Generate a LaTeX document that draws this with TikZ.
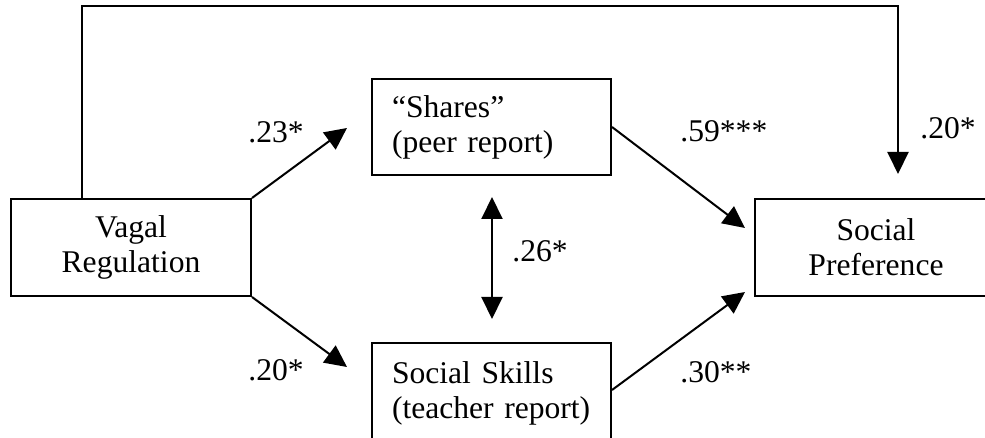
\documentclass[tikz,border=0pt]{standalone}
\usepackage{fontspec}
\setmainfont{Liberation Serif}
\usetikzlibrary{arrows.meta}
\begin{document}
\begin{tikzpicture}[x=0.5pt,y=-0.5pt,
  every node/.style={font=\fontsize{15.8pt}{17.5pt}\selectfont},
  var/.style={draw, line width=1pt, inner sep=0pt, align=center},
  leftvar/.style={draw, line width=1pt, inner xsep=10pt, inner ysep=0pt,
    text width=99.5pt, minimum width=119.5pt, align=left},
  coef/.style={anchor=base west, inner sep=0pt},
  path/.style={line width=1pt, -{Triangle[length=11pt,width=10.5pt]}},
  both/.style={line width=1pt, {Triangle[length=11pt,width=10.5pt]}-{Triangle[length=11pt,width=10.5pt]}}
]
\useasboundingbox (0,0) rectangle (985,438);
\clip (0,0) rectangle (985,438);

% variables
\node[var, minimum width=120pt, minimum height=48.5pt] (V) at (131,247.5)
  {Vagal\\Regulation};
\node[var, minimum width=121pt, minimum height=48.5pt] (P) at (876,247.5)
  {Social\\Preference};
\node[leftvar, minimum height=48pt] (S) at (491.5,127)
  {``Shares''\\(peer report)};
\node[leftvar, minimum height=50pt] (K) at (491.5,393)
  {Social Skills\\(teacher report)};

% arrow tips that stop short of the boxes
\coordinate (tS) at (347,128);
\coordinate (tK) at (347,367);
\coordinate (tP1) at (745,228);
\coordinate (tP2) at (745,292);

% paths
\draw[path] (V.north east) -- (tS);
\draw[path] (V.south east) -- (tK);
\draw[path] (S.east) -- (tP1);
\draw[path] (K.east |- 0,390) -- (tP2);
\draw[both, shorten <=10.5pt, shorten >=11.5pt] (S.south -| 492,0) -- (K.north -| 492,0);
\draw[path] ([xshift=36pt]V.north west) -- ++(0,-192)
  -| ([xshift=72pt,yshift=12pt]P.north west);

% coefficients
\node[coef] (c1) at (248,143) {.23*};
\node[coef] (c2) at (248,380) {.20*};
\node[coef] (c3) at (680,142) {.59***};
\node[coef] (c4) at (680,382) {.30**};
\node[coef] (c5) at (512,262) {.26*};
\node[coef] (c6) at (920,139) {.20*};
\end{tikzpicture}
\end{document}
